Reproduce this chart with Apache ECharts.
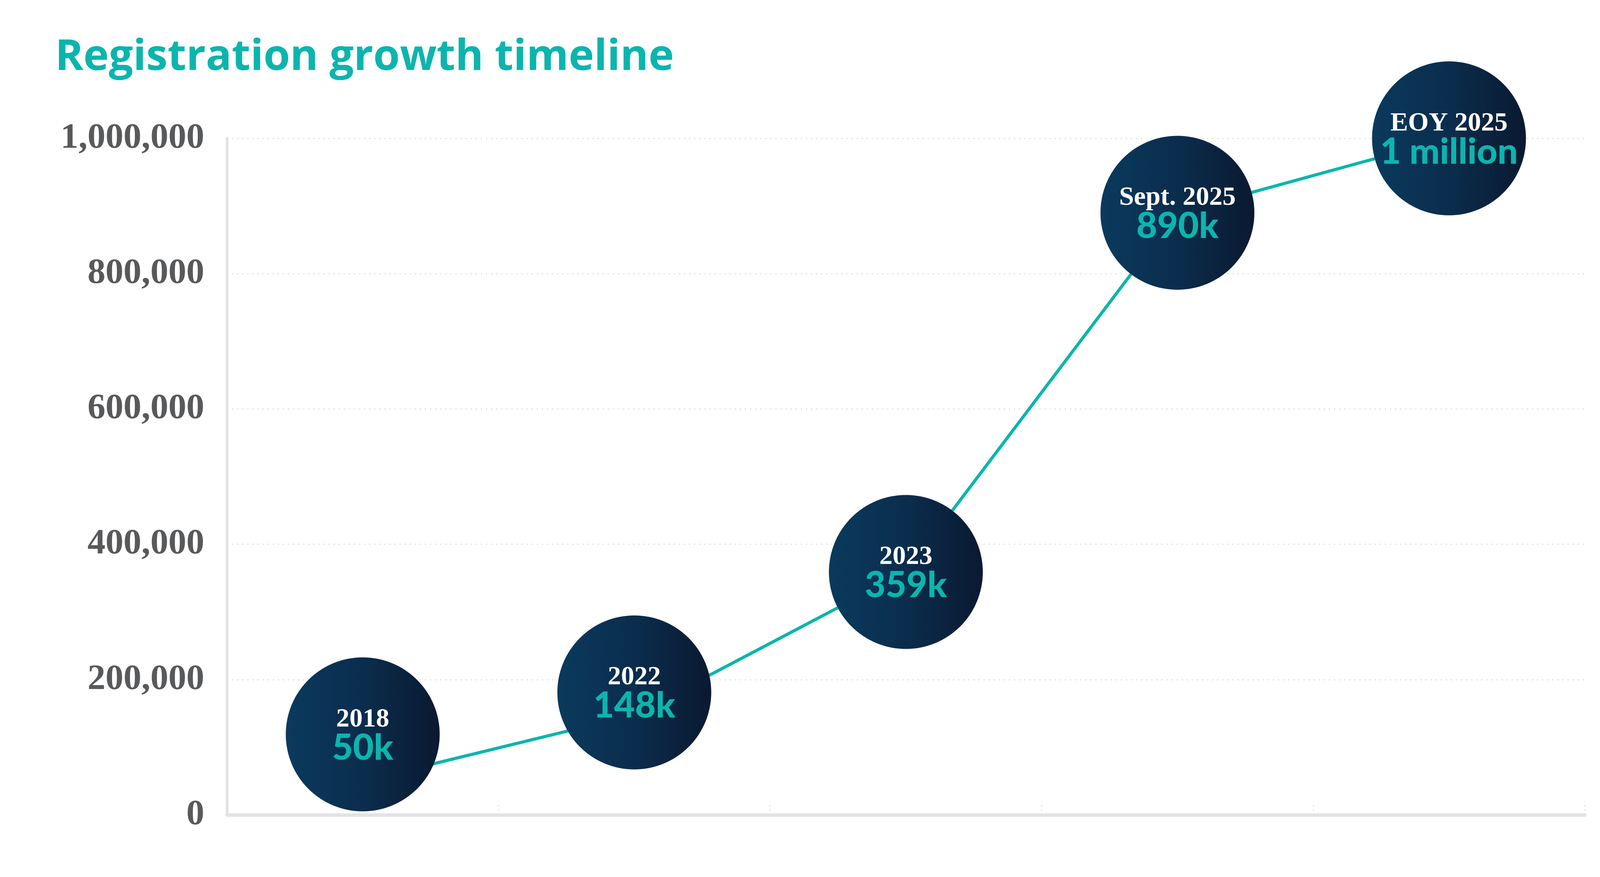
<!DOCTYPE html>
<html>
<head>
<meta charset="utf-8">
<title>Registration growth timeline</title>
<script src="https://cdn.jsdelivr.net/npm/echarts@6/dist/echarts.min.js"></script>
<style>
  html, body { margin: 0; padding: 0; background: #fff; }
  #chart { width: 4167px; height: 2244px; }
</style>
</head>
<body>
<div id="chart"></div>
<script>
const periods = ['2018', '2022', '2023', 'Sept. 2025', 'EOY 2025'];
const registrations = [50000, 148000, 359000, 890000, 1000000];
const valueLabels = ['50k', '148k', '359k', '890k', '1 million'];
// bubble centres: the first two are lifted so they stay clear of the axis
const bubbleY = [119000, 181000, 359000, 890000, 1000000];
const yMin = 0;
const yMax = 1000000;
const yStep = 200000;

const teal = '#0BB5AD';
const serif = '"Liberation Serif", "DejaVu Serif", serif';

const myChart = echarts.init(document.getElementById('chart'));

myChart.setOption({
  animation: false,
  backgroundColor: '#fff',
  title: {
    text: 'Registration growth timeline',
    left: 136,
    top: 88,
    textStyle: {
      color: teal,
      fontFamily: '"Open Sans"',
      fontWeight: 700,
      fontSize: 110
    }
  },
  grid: {
    left: 581,
    right: 110,
    top: 354,
    bottom: 159,
    containLabel: false
  },
  xAxis: {
    type: 'category',
    data: periods,
    boundaryGap: true,
    axisLine: {
      show: true,
      lineStyle: { color: '#E2E3E4', width: 9, cap: 'round' }
    },
    axisTick: {
      show: true,
      inside: true,
      length: 34,
      lineStyle: { color: '#E0E0E0', width: 3, type: [3, 8] }
    },
    axisLabel: { show: false },
    splitLine: { show: false }
  },
  yAxis: {
    type: 'value',
    min: yMin,
    max: yMax,
    interval: yStep,
    axisLine: {
      show: true,
      lineStyle: { color: '#E2E3E4', width: 7, cap: 'round' }
    },
    axisTick: { show: false },
    axisLabel: {
      margin: 58,
      color: '#58595B',
      fontFamily: serif,
      fontWeight: 'bold',
      fontSize: 92,
      padding: [66, 0, 0, 0],
      formatter: v => v.toLocaleString('en-US')
    },
    splitLine: {
      show: true,
      lineStyle: { color: '#E0E0E0', width: 3, type: [3, 10] }
    }
  },
  series: [
    {
      name: 'Registrations',
      type: 'line',
      data: registrations,
      symbol: 'none',
      z: 2,
      lineStyle: { color: teal, width: 8 },
      emphasis: { disabled: true }
    },
    {
      name: 'Milestones',
      type: 'scatter',
      data: bubbleY,
      symbol: 'circle',
      symbolSize: 394,
      clip: false,
      z: 3,
      itemStyle: {
        opacity: 1,
        color: new echarts.graphic.LinearGradient(0, 0, 1, 0, [
          { offset: 0, color: '#0A3A5D' },
          { offset: 0.5, color: '#0B2D4D' },
          { offset: 1, color: '#0A1930' }
        ])
      },
      label: {
        show: true,
        position: 'inside',
        formatter: p => '{y|' + periods[p.dataIndex] + '}\n{v|' + valueLabels[p.dataIndex] + '}',
        rich: {
          y: {
            color: '#fff',
            fontFamily: serif,
            fontWeight: 'bold',
            fontSize: 68,
            lineHeight: 70,
            padding: [14, 0, 0, 0],
            align: 'center'
          },
          v: {
            color: teal,
            fontFamily: 'Lato',
            fontWeight: 900,
            fontSize: 92,
            lineHeight: 90,
            align: 'center'
          }
        }
      },
      emphasis: { disabled: true }
    }
  ]
});
</script>
</body>
</html>
